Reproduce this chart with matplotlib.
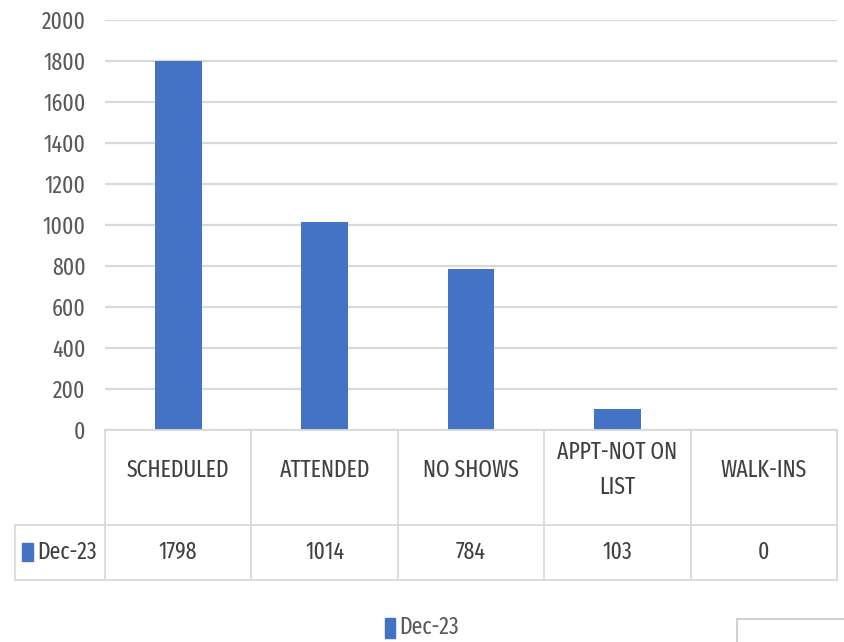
import matplotlib.pyplot as plt
from matplotlib.patches import Rectangle

categories = ['SCHEDULED', 'ATTENDED', 'NO SHOWS', 'APPT-NOT ON\nLIST', 'WALK-INS']
values = [1798, 1014, 784, 103, 0]
series = 'Dec-23'
yticks = list(range(0, 2001, 200))

plt.rcParams['font.family'] = ['Fira Sans Extra Condensed', 'DejaVu Sans']
blue = '#4472C4'
grey_txt = '#595959'
grid_c = '#d9d9d9'

W, H = 844, 642
fig = plt.figure(figsize=(W / 100, H / 100), dpi=100)

# main bar axes (pixel box 105..837 x 20..430)
ax = fig.add_axes([105 / W, 1 - 430 / H, 732 / W, 410 / H])
x = list(range(len(categories)))
ax.bar(x, values, width=0.32, color=blue, zorder=3)
ax.set_xlim(-0.5, len(categories) - 0.5)
ax.set_ylim(0, 2000)
ax.set_yticks(yticks)
ax.set_yticklabels([str(t) for t in yticks], color=grey_txt, fontsize=17)
ax.tick_params(axis='y', length=0, pad=14)
ax.set_xticks([])
ax.yaxis.grid(True, color=grid_c, lw=1.6, zorder=0)
for s in ax.spines.values():
    s.set_visible(False)

# data table below (pixel rows: header 430..525, values 525..580)
tab = fig.add_axes([105 / W, 1 - 580 / H, 732 / W, 150 / H])
tab.set_xlim(-0.5, len(categories) - 0.5)
tab.set_ylim(150, 0)
tab.axis('off')
colw = 732 / len(categories)
left = -0.5 - 90 / colw
right = len(categories) - 0.5
lk = dict(color=grid_c, lw=1.3, clip_on=False)
tab.plot([-0.5, right], [0, 0], **lk)
tab.plot([left, right], [95, 95], **lk)
tab.plot([left, right], [150, 150], **lk)
tab.plot([left, left], [95, 150], **lk)
for i in range(len(categories) + 1):
    tab.plot([i - 0.5, i - 0.5], [0, 150], **lk)
for i, (c, v) in enumerate(zip(categories, values)):
    tab.text(i, 40, c, ha='center', va='center', fontsize=17, color='#404040',
             linespacing=1.65)
    tab.text(i, 122, str(v), ha='center', va='center', fontsize=17, color='#404040')
tab.add_patch(Rectangle((left + 7 / colw, 113), 11 / colw, 18, color=blue, clip_on=False))
tab.text(left + 22 / colw, 122, series, ha='left', va='center', fontsize=17,
         color='#404040')

# legend below
fig.patches.append(Rectangle((385 / W, 1 - 638 / H), 10 / W, 20 / H, color=blue,
                             transform=fig.transFigure))
fig.text(399 / W, 1 - 627 / H, series, ha='left', va='center', fontsize=17,
         color=grey_txt)

# partial box at bottom right
fig.patches.append(Rectangle((737 / W, -0.01), 120 / W, 29 / H, fill=False,
                             edgecolor='#c8c8c8', lw=1.2, transform=fig.transFigure))

fig.savefig('out.png', dpi=100)
